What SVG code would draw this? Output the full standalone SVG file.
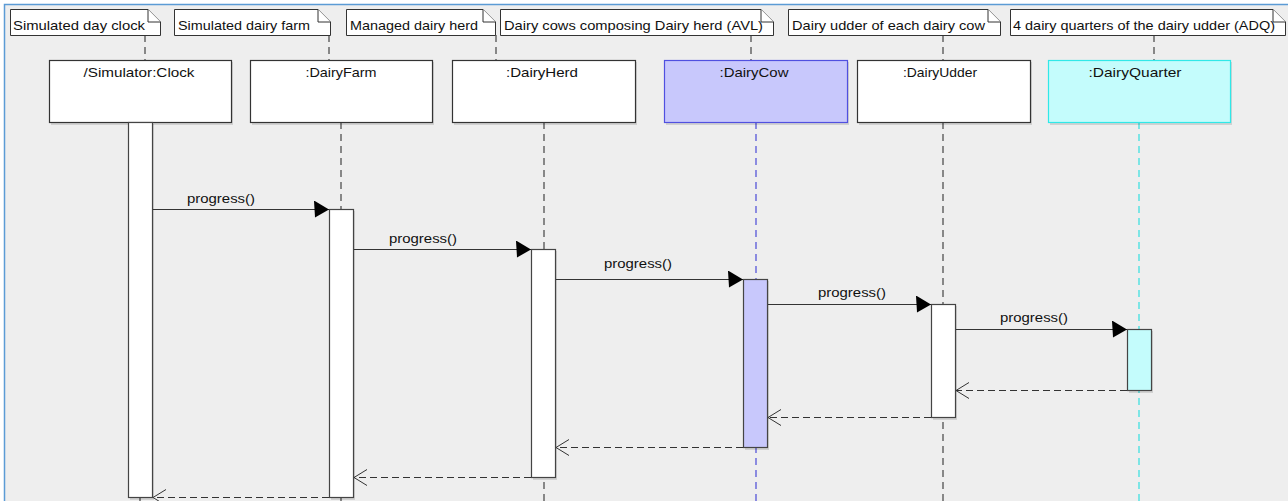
<svg xmlns="http://www.w3.org/2000/svg" width="1288" height="501" viewBox="0 0 1288 501">
<defs>
<style>
text{font-family:"Liberation Sans",Arial,sans-serif;font-size:13px;fill:#111}
.note{fill:#fff;stroke:#333;stroke-width:1}
.box{fill:#fff;stroke:#333;stroke-width:1.2}
.sh{fill:#000;opacity:0.12}
.ll{stroke:#444;stroke-width:1.2;stroke-dasharray:7,5;fill:none}
.nl{stroke:#444;stroke-width:1.2;stroke-dasharray:7,5;fill:none}
.act{fill:#fff;stroke:#444;stroke-width:1.2}
.msg{stroke:#333;stroke-width:1.2;fill:none}
.ret{stroke:#333;stroke-width:1.2;stroke-dasharray:7,4;fill:none}
.ttl{text-anchor:middle}
</style>
<marker id="fill" markerWidth="16" markerHeight="18" refX="15" refY="9" orient="auto" markerUnits="userSpaceOnUse">
<path d="M0,0 L15,9 L1,17 Z" fill="#000"/>
</marker>
<marker id="open" markerWidth="16" markerHeight="18" refX="14" refY="9" orient="auto" markerUnits="userSpaceOnUse">
<path d="M1,1 L14,9 L1,17" fill="none" stroke="#333" stroke-width="1"/>
</marker>
</defs>
<rect x="0" y="0" width="1288" height="501" fill="#fff"/>
<rect x="4" y="4" width="1290" height="500" fill="#eeeeee"/>
<path d="M4.5,505 V4.5 H1288" fill="none" stroke="#5b9bd5" stroke-width="1.5"/>

<g id="note-connectors">
<line class="nl" x1="145" y1="35" x2="145" y2="60"/>
<line class="nl" x1="329" y1="35" x2="329" y2="60"/>
<line class="nl" x1="496" y1="35" x2="496" y2="60"/>
<line class="nl" x1="751" y1="35" x2="751" y2="60"/>
<line class="nl" x1="943" y1="35" x2="943" y2="60"/>
<line class="nl" x1="1154" y1="35" x2="1154" y2="60"/>
</g>

<g id="note1"><path class="note" d="M10.5,9.5 H148 L160.5,22 V35.5 H10.5 Z"/><path class="note" d="M148,9.5 V22 H160.5" fill="none"/><text x="13" y="29.5" textLength="132" lengthAdjust="spacingAndGlyphs">Simulated day clock</text></g>
<g id="note2"><path class="note" d="M174.5,9.5 H318 L330.5,22 V35.5 H174.5 Z"/><path class="note" d="M318,9.5 V22 H330.5" fill="none"/><text x="178" y="29.5" textLength="132" lengthAdjust="spacingAndGlyphs">Simulated dairy farm</text></g>
<g id="note3"><path class="note" d="M346.5,9.5 H483 L495.5,22 V35.5 H346.5 Z"/><path class="note" d="M483,9.5 V22 H495.5" fill="none"/><text x="350" y="29.5" textLength="128" lengthAdjust="spacingAndGlyphs">Managed dairy herd</text></g>
<g id="note4"><path class="note" d="M500.5,9.5 H761 L773.5,22 V35.5 H500.5 Z"/><path class="note" d="M761,9.5 V22 H773.5" fill="none"/><text x="504" y="29.5" textLength="259" lengthAdjust="spacingAndGlyphs">Dairy cows composing Dairy herd (AVL)</text></g>
<g id="note5"><path class="note" d="M788.5,9.5 H988 L1000.5,22 V35.5 H788.5 Z"/><path class="note" d="M988,9.5 V22 H1000.5" fill="none"/><text x="792" y="29.5" textLength="193" lengthAdjust="spacingAndGlyphs">Dairy udder of each dairy cow</text></g>
<g id="note6"><path class="note" d="M1010.5,9.5 H1273 L1285.5,22 V35.5 H1010.5 Z"/><path class="note" d="M1273,9.5 V22 H1285.5" fill="none"/><text x="1013" y="29.5" textLength="262" lengthAdjust="spacingAndGlyphs">4 dairy quarters of the dairy udder (ADQ)</text></g>

<g id="lifelines">
<line class="ll" x1="140" y1="122" x2="140" y2="501"/>
<line class="ll" x1="341" y1="122" x2="341" y2="501"/>
<line class="ll" x1="544" y1="122" x2="544" y2="501"/>
<line class="ll" x1="756" y1="122" x2="756" y2="501" style="stroke:#4a4ad8"/>
<line class="ll" x1="943" y1="122" x2="943" y2="501"/>
<line class="ll" x1="1139" y1="122" x2="1139" y2="501" style="stroke:#33e0e0"/>
</g>

<g id="clock"><rect class="sh" x="51" y="62" width="182" height="63"/><rect class="box" x="49.5" y="60.5" width="182" height="62"/><text class="ttl" x="139" y="77" textLength="111" lengthAdjust="spacingAndGlyphs">/Simulator:Clock</text></g>
<g id="dairyfarm"><rect class="sh" x="252" y="62" width="182" height="63"/><rect class="box" x="250.5" y="60.5" width="182" height="62"/><text class="ttl" x="341" y="77" textLength="71" lengthAdjust="spacingAndGlyphs">:DairyFarm</text></g>
<g id="dairyherd"><rect class="sh" x="454" y="62" width="183" height="63"/><rect class="box" x="452.5" y="60.5" width="183" height="62"/><text class="ttl" x="542" y="77" textLength="72" lengthAdjust="spacingAndGlyphs">:DairyHerd</text></g>
<g id="dairycow"><rect class="sh" x="666" y="62" width="183" height="63"/><rect class="box" x="664.5" y="60.5" width="183" height="62" style="fill:#c8c8fc;stroke:#5050e0"/><text class="ttl" x="754" y="77" textLength="69" lengthAdjust="spacingAndGlyphs">:DairyCow</text></g>
<g id="dairyudder"><rect class="sh" x="859" y="62" width="173" height="63"/><rect class="box" x="857.5" y="60.5" width="173" height="62"/><text class="ttl" x="940" y="77" textLength="74" lengthAdjust="spacingAndGlyphs">:DairyUdder</text></g>
<g id="dairyquarter"><rect class="sh" x="1050" y="62" width="182" height="63"/><rect class="box" x="1048.5" y="60.5" width="182" height="62" style="fill:#c4fcfc;stroke:#30e8e8"/><text class="ttl" x="1135" y="77" textLength="93" lengthAdjust="spacingAndGlyphs">:DairyQuarter</text></g>

<g id="activations">
<rect class="sh" x="130" y="124" width="24" height="376"/><rect class="act" x="128.5" y="122.5" width="24" height="375"/>
<rect class="sh" x="331" y="211" width="24" height="289"/><rect class="act" x="329.5" y="209.5" width="24" height="288"/>
<rect class="sh" x="533" y="251" width="24" height="229"/><rect class="act" x="531.5" y="249.5" width="24" height="228"/>
<rect class="sh" x="745" y="281" width="24" height="169"/><rect class="act" x="743.5" y="279.5" width="24" height="168" style="fill:#c8c8fc"/>
<rect class="sh" x="933" y="306" width="24" height="114"/><rect class="act" x="931.5" y="304.5" width="24" height="113"/>
<rect class="sh" x="1129" y="331" width="24" height="62"/><rect class="act" x="1127.5" y="329.5" width="24" height="61" style="fill:#c4fcfc"/>
</g>

<g id="connectors">
<line class="msg" x1="153" y1="209.5" x2="329" y2="209.5" marker-end="url(#fill)"/>
<line class="msg" x1="354" y1="249.5" x2="531" y2="249.5" marker-end="url(#fill)"/>
<line class="msg" x1="556" y1="279.5" x2="743" y2="279.5" marker-end="url(#fill)"/>
<line class="msg" x1="768" y1="304.5" x2="931" y2="304.5" marker-end="url(#fill)"/>
<line class="msg" x1="956" y1="329.5" x2="1127" y2="329.5" marker-end="url(#fill)"/>
<line class="ret" x1="1127" y1="390.5" x2="956" y2="390.5" marker-end="url(#open)"/>
<line class="ret" x1="931" y1="417.5" x2="768" y2="417.5" marker-end="url(#open)"/>
<line class="ret" x1="743" y1="447.5" x2="556" y2="447.5" marker-end="url(#open)"/>
<line class="ret" x1="531" y1="477.5" x2="354" y2="477.5" marker-end="url(#open)"/>
<line class="ret" x1="329" y1="497.5" x2="153" y2="497.5" marker-end="url(#open)"/>
<text x="187" y="203" textLength="68" lengthAdjust="spacingAndGlyphs">progress()</text>
<text x="389" y="243" textLength="68" lengthAdjust="spacingAndGlyphs">progress()</text>
<text x="604" y="268" textLength="68" lengthAdjust="spacingAndGlyphs">progress()</text>
<text x="818" y="297" textLength="68" lengthAdjust="spacingAndGlyphs">progress()</text>
<text x="1000" y="322" textLength="68" lengthAdjust="spacingAndGlyphs">progress()</text>
</g>
</svg>
